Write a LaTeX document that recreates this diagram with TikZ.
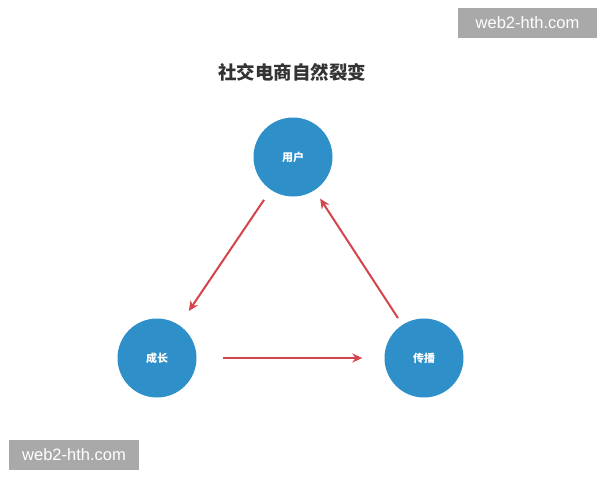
\documentclass[tikz,border=0pt]{standalone}
\usepackage{fontspec}
\setmainfont{Liberation Sans}
\newfontfamily\cjk{Noto Sans CJK SC}
\usetikzlibrary{arrows.meta}
\definecolor{circblue}{HTML}{2F90C9}
\definecolor{arrred}{HTML}{D5434C}
\definecolor{titlegray}{HTML}{333333}
\definecolor{markgray}{HTML}{A9A9A9}
\tikzset{
  circ/.style={circle, fill=circblue, draw=none, minimum size=79pt, inner sep=0pt,
    text=white, font=\cjk\bfseries\fontsize{11}{13}\selectfont},
  flow/.style={draw=arrred, line width=2pt, -{Stealth[length=10pt,width=9pt]}},
  wmark/.style={fill=markgray, text=white, inner sep=0pt, minimum height=30pt,
    font=\fontsize{16.5}{18}\selectfont}
}
\begin{document}
\begin{tikzpicture}[x=1pt,y=-1pt]
\useasboundingbox[fill=white] (0,0) rectangle (600,480);
\node[font=\cjk\bfseries\fontsize{18.5}{22}\selectfont, text=titlegray] (title) at (292,72) {社交电商自然裂变};
\node[circ] (yh) at (293,157) {用户};
\node[circ] (cz) at (157,358) {成长};
\node[circ] (cb) at (424,358) {传播};
\draw[flow, shorten <=12pt, shorten >=17pt] (yh) -- (cz);
\draw[flow, shorten <=8pt, shorten >=10pt] (cb) -- (yh);
\draw[flow, shorten <=26pt, shorten >=22pt] (cz) -- (cb);
\node[wmark, minimum width=139pt] (wm1) at (527.5,23) {web2-hth.com};
\node[wmark, minimum width=130pt] (wm2) at (74,455) {web2-hth.com};
\end{tikzpicture}
\end{document}
